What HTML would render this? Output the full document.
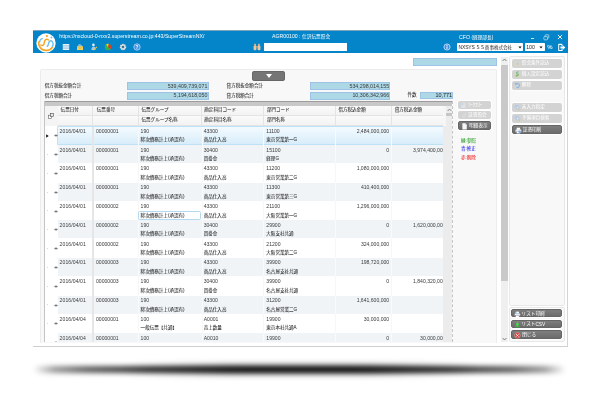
<!DOCTYPE html><html lang="ja"><head><meta charset="utf-8"><title>AGR00100 : 仕訳伝票照会</title><style>
*{box-sizing:border-box}
html,body{margin:0;padding:0}
body{width:600px;height:402px;background:#fff;overflow:hidden;position:relative;
 font-family:"Liberation Sans","Noto Sans CJK JP",sans-serif;color:#2a2a2a;font-weight:400}
.a{position:absolute}
.t{position:absolute;white-space:nowrap;line-height:1;}
.j{font-size:4.55px;-webkit-text-stroke-width:0.05px}
.l{font-size:5.1px;color:#3a3a3a}
.w{color:#fff}
.inp{position:absolute;background:#add8e6;border:0.5px solid #9fc3e6}
.btn{position:absolute;border-radius:2px;background:#d3d3d3;box-shadow:0 0 0 0.8px #fff}
.btn.d{background:linear-gradient(#7e7e7e,#6c6c6c);border:0.4px solid #666}
.btn:not(.d) svg{opacity:.72}
.btn .t{color:#fff;font-size:4.6px;font-weight:400}
.hc{position:absolute;background:linear-gradient(#fafafa,#f3f3f3)}
</style></head><body><div id="root" style="position:absolute;left:0;top:0;width:600px;height:402px;will-change:transform">
<div class="a" style="left:33px;top:366.3px;width:533px;height:7px;border-radius:3.5px;background:linear-gradient(to right,rgba(0,0,0,0),rgba(0,0,0,.38) 4%,rgba(0,0,0,.6) 10%,rgba(0,0,0,.8) 22%,rgba(0,0,0,.92) 40%,rgba(0,0,0,.92) 60%,rgba(0,0,0,.8) 78%,rgba(0,0,0,.6) 90%,rgba(0,0,0,.38) 96%,rgba(0,0,0,0));filter:blur(2.6px)"></div>
<div class="a" style="left:120px;top:364px;width:360px;height:11px;border-radius:5.5px;background:linear-gradient(to right,rgba(0,0,0,0),rgba(0,0,0,.3) 30%,rgba(0,0,0,.3) 70%,rgba(0,0,0,0));filter:blur(3px)"></div>
<div class="a" style="left:33px;top:53px;width:535px;height:294px;background:#fff;border-right:1px solid #d4d4d4;border-bottom:1px solid #cfcfcf"></div>
<div class="a" style="left:33px;top:30px;width:535px;height:23px;background:#0485c9;border-top:0.7px solid #7fa3ba"></div>
<svg class="a" style="left:36.15px;top:32.8px" width="20" height="20" viewBox="0 0 20 20">
<circle cx="10" cy="10" r="9.7" fill="#fff"/>
<path d="M2.6 9.2 C2.4 12.4 4.6 17.2 9.8 17.4 C13 17.5 15.6 15.8 16.5 13.8" fill="none" stroke="#f6a623" stroke-width="1.7" stroke-linecap="round"/>
<path d="M12.4 6.9 C11.6 5.9 10.2 5.8 9.2 7 C8 8.4 8.6 10 7.8 11.4 C7 12.6 5.8 12.7 4.8 12" fill="none" stroke="#f6a623" stroke-width="1.5" stroke-linecap="round"/>
<path d="M6.3 5.6 C4.8 5.9 3.8 7.2 3.6 8.9" fill="none" stroke="#6cc0f3" stroke-width="1.4" stroke-linecap="round"/>
<path d="M11.3 13.3 C12.6 12.4 12.4 10.4 13.1 8.9 C13.8 7.6 15.4 7.4 16.3 8.6 C17.2 10 17.3 12 16.6 13.3" fill="none" stroke="#6cc0f3" stroke-width="1.4" stroke-linecap="round"/>
<circle cx="10.9" cy="3.1" r="1.15" fill="#f6a623"/>
<circle cx="15.4" cy="4.5" r="0.95" fill="#6cc0f3"/>
</svg>
<div class="t w" style="left:59.3px;top:33.6px;font-size:5.22px">https://nxcloud-0-nxv2.superstream.co.jp:443/SuperStreamNX/</div>
<svg class="a" style="left:61.5px;top:43.0px" width="8" height="8" viewBox="0 0 8 8"><rect x="0.8" y="1" width="6.4" height="6" fill="#e8f2fa"/><path d="M0.8 2.6h6.4M0.8 4h6.4M0.8 5.4h6.4" stroke="#6aa9d6" stroke-width="0.5"/></svg>
<svg class="a" style="left:75.5px;top:43.0px" width="8" height="8" viewBox="0 0 8 8"><path d="M1 3.4 L4 1.6 L7 3.4 V7 H1Z" fill="#f3d05a"/><path d="M1 3.6 L4 5.6 L7 3.6" fill="none" stroke="#d9a520" stroke-width="0.5"/><circle cx="3.6" cy="2.4" r="1.3" fill="#7ab8ee"/></svg>
<svg class="a" style="left:89.6px;top:43.0px" width="8" height="8" viewBox="0 0 8 8"><circle cx="3.4" cy="1.9" r="1.3" fill="#e8f0fa"/><path d="M1.4 7 C1.4 4.4 2.4 3.4 3.6 3.4 C4.8 3.4 5.6 4.4 5.6 7Z" fill="#9fc8f0"/><path d="M3 7 L6.6 3.6 L7.2 4.2 L3.8 7.4Z" fill="#f2c230"/></svg>
<svg class="a" style="left:104.0px;top:43.0px" width="8" height="8" viewBox="0 0 8 8"><circle cx="4" cy="4" r="3.2" fill="#35b24a"/><path d="M4 4 L4.56 0.85 A3.2 3.2 0 0 1 6.45 6.06 Z" fill="#e6332a"/><path d="M4 4 L2.2 1.35 A3.2 3.2 0 0 1 4.56 0.85Z" fill="#f0d040"/></svg>
<svg class="a" style="left:118.6px;top:43.0px" width="8" height="8" viewBox="0 0 8 8"><circle cx="4" cy="4" r="2.4" fill="none" stroke="#e4e4e4" stroke-width="1.7" stroke-dasharray="1.1 0.78"/><circle cx="4" cy="4" r="2" fill="none" stroke="#dcdcdc" stroke-width="1.3"/><circle cx="4" cy="4" r="0.9" fill="#5a6a78"/></svg>
<svg class="a" style="left:133.0px;top:43.0px" width="8" height="8" viewBox="0 0 8 8"><circle cx="4" cy="4" r="3.2" fill="#3f8fe0" stroke="#cfe4f8" stroke-width="0.7"/><text x="4" y="5.7" font-size="4.8" font-weight="bold" fill="#fff" text-anchor="middle" font-family="Liberation Sans,sans-serif">?</text></svg>
<div class="t w" style="left:272px;top:33.8px;font-size:5.2px">AGR00100 : <span style="font-size:4.7px">仕訳伝票照会</span></div>
<div class="a" style="left:263.6px;top:42.9px;width:83px;height:7.9px;background:#fff"></div>
<svg class="a" style="left:253.3px;top:42.8px" width="8" height="8" viewBox="0 0 8 8"><rect x="0.6" y="2.6" width="2.8" height="4.6" rx="1" fill="#ecc9a4"/><rect x="4.6" y="2.6" width="2.8" height="4.6" rx="1" fill="#ecc9a4"/><rect x="1.2" y="0.8" width="1.8" height="2.4" fill="#d9b48c"/><rect x="5" y="0.8" width="1.8" height="2.4" fill="#d9b48c"/><rect x="3.2" y="3" width="1.6" height="1.6" fill="#c9a47c"/></svg>
<div class="t w" style="left:459px;top:34.8px;font-size:5.2px">CFO <span style="font-size:4.7px">(経理部長)</span></div>
<div class="a" style="left:530.6px;top:38.1px;width:3.6px;height:0.9px;background:#cfe6f5"></div>
<svg class="a" style="left:543px;top:33.7px" width="7" height="7" viewBox="0 0 7 7"><rect x="2.2" y="0.8" width="3.6" height="3.2" rx="0.6" fill="none" stroke="#d5e9f7" stroke-width="0.7"/><rect x="0.9" y="2.6" width="3.6" height="3.2" rx="0.6" fill="#0485c9" stroke="#d5e9f7" stroke-width="0.7"/></svg>
<svg class="a" style="left:557px;top:33.6px" width="6" height="6" viewBox="0 0 6 6"><path d="M0.9 0.9 L5.1 5.1 M5.1 0.9 L0.9 5.1" stroke="#f2f8fd" stroke-width="0.95"/></svg>
<svg class="a" style="left:442.8px;top:43.0px" width="8" height="8" viewBox="0 0 8 8"><circle cx="4" cy="4" r="3.1" fill="#3f8fe0" stroke="#d8e9f8" stroke-width="0.8"/><rect x="3.5" y="3.4" width="1" height="2.4" fill="#fff"/><rect x="3.5" y="2" width="1" height="1" fill="#fff"/></svg>
<div class="a" style="left:457px;top:43.3px;width:66.3px;height:7.7px;background:#fff;border-radius:0.8px"></div>
<div class="t" style="left:458.6px;top:44.6px;font-size:5px;letter-spacing:-0.2px">NXSYS <span style="font-size:4.55px;letter-spacing:0">ＳＳ商事株式会社</span></div>
<svg class="a" style="left:517.6px;top:45.9px" width="4" height="3" viewBox="0 0 4 3"><path d="M0.4 0.4 H3.6 L2 2.6Z" fill="#111"/></svg>
<div class="a" style="left:524.7px;top:43.3px;width:20px;height:7.7px;background:#fff;border-radius:0.8px"></div>
<div class="t" style="left:526.2px;top:44.5px;font-size:5.2px">100</div>
<svg class="a" style="left:539.2px;top:45.9px" width="4" height="3" viewBox="0 0 4 3"><path d="M0.4 0.4 H3.6 L2 2.6Z" fill="#111"/></svg>
<div class="t" style="left:547.2px;top:44.2px;font-size:6px;color:#d4eaf9;font-weight:700">%</div>
<svg class="a" style="left:556.5px;top:42.6px" width="9" height="9" viewBox="0 0 9 9"><path d="M1.2 1.4 Q1.2 0.8 1.8 0.8 H4.6 L5.6 1.8 V3 H4.6 V2 H2.2 V7 H4.6 V6 H5.6 V7.4 Q5.6 8 5 8 H1.8 Q1.2 8 1.2 7.4Z" fill="#fff"/><path d="M3.4 3.6 H5.8 V2.2 L8.4 4.5 L5.8 6.8 V5.4 H3.4Z" fill="#fff"/></svg>
<div class="inp" style="left:413.4px;top:58px;width:83.8px;height:8.2px"></div>
<div class="a" style="left:40px;top:69px;width:457.3px;height:274px;background:#f8f8f8;border:0.6px solid #ececec;border-bottom:0;border-radius:2px 2px 0 0"></div>
<div class="a" style="left:252px;top:71.4px;width:33.2px;height:9.2px;background:#757575;border-radius:1.8px;border:0.5px solid #666"></div>
<div class="a" style="left:265.8px;top:74.1px;width:0;height:0;border-left:3.2px solid transparent;border-right:3.2px solid transparent;border-top:4.4px solid #fff"></div>
<div class="t j" style="left:44.8px;top:84.3px">借方税抜金額合計</div>
<div class="t j" style="left:44.8px;top:93.5px">借方税額合計</div>
<div class="inp" style="left:127px;top:82.3px;width:81.6px;height:7.8px"></div>
<div class="inp" style="left:127px;top:91.9px;width:81.6px;height:7.8px"></div>
<div class="t l" style="right:392.6px;top:83.6px;font-size:5.3px">539,409,739,071</div>
<div class="t l" style="right:392.6px;top:93.2px;font-size:5.3px">5,194,618,050</div>
<div class="t j" style="left:226.6px;top:84.3px">貸方税抜金額合計</div>
<div class="t j" style="left:226.6px;top:93.5px">貸方税額合計</div>
<div class="inp" style="left:310px;top:82.3px;width:80.4px;height:7.8px"></div>
<div class="inp" style="left:310px;top:91.9px;width:80.4px;height:7.8px"></div>
<div class="t l" style="right:210.8px;top:83.6px;font-size:5.3px">534,298,014,155</div>
<div class="t l" style="right:210.8px;top:93.2px;font-size:5.3px">10,306,342,966</div>
<div class="t j" style="left:407.5px;top:93.4px">件数</div>
<div class="inp" style="left:420px;top:91.8px;width:33px;height:7.6px"></div>
<div class="t l" style="right:148px;top:93.1px;font-size:5.4px;color:#222">10,771</div>
<div class="a" style="left:44px;top:101.4px;width:409px;height:240.99999999999997px;background:#fff;overflow:hidden;border-left:0.7px solid #c4c4c4;border-right:0.7px dashed #c6c6c6">
<div class="a" style="left:0;top:0;width:409px;height:4.2px;background:#c8c8c8;border-top:0.6px solid #9c9c9c"></div>
<div class="a" style="left:0;top:4.4px;width:409px;height:19.79999999999999px;background:#e4e4e4"></div>
<div class="a" style="left:0;top:4.4px;width:12.600000000000003px;height:19.79999999999999px;background:#f4f4f4"></div>
<div class="hc" style="left:13.000000000000002px;top:4.599999999999994px;width:33.9px;height:8.899999999999995px"></div>
<div class="hc" style="left:13.000000000000002px;top:14.199999999999989px;width:33.9px;height:9.7px"></div>
<div class="t j" style="left:15.600000000000003px;top:6.999999999999995px">伝票日付</div>
<div class="hc" style="left:47.9px;top:4.599999999999994px;width:45.0px;height:8.899999999999995px"></div>
<div class="hc" style="left:47.9px;top:14.199999999999989px;width:45.0px;height:9.7px"></div>
<div class="t j" style="left:51.800000000000004px;top:6.999999999999995px">伝票番号</div>
<div class="hc" style="left:93.80000000000001px;top:4.599999999999994px;width:62.599999999999994px;height:8.899999999999995px"></div>
<div class="hc" style="left:93.80000000000001px;top:14.199999999999989px;width:62.599999999999994px;height:9.7px"></div>
<div class="t j" style="left:96.5px;top:6.999999999999995px">伝票グループ</div>
<div class="t j" style="left:96.5px;top:16.79999999999999px">伝票グループ名称</div>
<div class="hc" style="left:157.3px;top:4.599999999999994px;width:60.79999999999998px;height:8.899999999999995px"></div>
<div class="hc" style="left:157.3px;top:14.199999999999989px;width:60.79999999999998px;height:9.7px"></div>
<div class="t j" style="left:159.3px;top:6.999999999999995px">勘定科目コード</div>
<div class="t j" style="left:159.3px;top:16.79999999999999px">勘定科目名称</div>
<div class="hc" style="left:219.00000000000003px;top:4.599999999999994px;width:70.59999999999997px;height:8.899999999999995px"></div>
<div class="hc" style="left:219.00000000000003px;top:14.199999999999989px;width:70.59999999999997px;height:9.7px"></div>
<div class="t j" style="left:221.9px;top:6.999999999999995px">部門コード</div>
<div class="t j" style="left:221.9px;top:16.79999999999999px">部門名称</div>
<div class="hc" style="left:290.5px;top:4.599999999999994px;width:55.599999999999966px;height:8.899999999999995px"></div>
<div class="hc" style="left:290.5px;top:14.199999999999989px;width:55.599999999999966px;height:9.7px"></div>
<div class="t j" style="left:293.4px;top:6.999999999999995px">借方税込金額</div>
<div class="hc" style="left:347.0px;top:4.599999999999994px;width:51.39999999999998px;height:8.899999999999995px"></div>
<div class="hc" style="left:347.0px;top:14.199999999999989px;width:51.39999999999998px;height:9.7px"></div>
<div class="t j" style="left:349.7px;top:6.999999999999995px">貸方税込金額</div>
<svg class="a" style="left:3.199999999999997px;top:11.599999999999994px" width="6" height="6" viewBox="0 0 6 6"><rect x="0.6" y="2.2" width="3" height="3.2" fill="#fff" stroke="#555" stroke-width="0.55"/><rect x="2.3" y="0.6" width="3.1" height="3.1" fill="#e4e4e4" stroke="#444" stroke-width="0.55"/></svg>
<div class="a" style="left:13.000000000000002px;top:24.19999999999999px;width:385.4px;height:18.8px;background:linear-gradient(#f5fbff,#d8edfa)"></div>
<div class="a" style="left:46.6px;top:24.19999999999999px;width:2.5px;height:18.8px;background:#e7e6e6"></div>
<div class="a" style="left:92.80000000000001px;top:24.19999999999999px;width:1px;height:18.8px;background:#f8fafb"></div>
<div class="a" style="left:156.8px;top:24.19999999999999px;width:1px;height:18.8px;background:#f8fafb"></div>
<div class="a" style="left:218.4px;top:24.19999999999999px;width:1px;height:18.8px;background:#f8fafb"></div>
<div class="a" style="left:289.79999999999995px;top:24.19999999999999px;width:1px;height:18.8px;background:#f8fafb"></div>
<div class="a" style="left:346.2px;top:24.19999999999999px;width:1px;height:18.8px;background:#f8fafb"></div>
<div class="a" style="left:12.4px;top:24.19999999999999px;width:386.4px;height:19.1px;border:0.6px solid #bfe1f5;border-right:0;border-radius:1.5px 0 0 1.5px"></div>
<div class="t l" style="left:14.600000000000003px;top:27.399999999999988px;letter-spacing:0.08px">2016/04/01</div>
<div class="t l" style="left:50.99999999999999px;top:27.399999999999988px">00000001</div>
<div class="t l" style="left:95.6px;top:27.399999999999988px">190</div>
<div class="t j" style="left:95.6px;top:37.09999999999999px">締次債務計上(承認有)</div>
<div class="t l" style="left:158.70000000000002px;top:27.399999999999988px">43300</div>
<div class="t j" style="left:158.70000000000002px;top:37.09999999999999px">商品仕入高</div>
<div class="t l" style="left:221.29999999999998px;top:27.399999999999988px">11100</div>
<div class="t j" style="left:221.29999999999998px;top:37.09999999999999px">東京営業第一G</div>
<div class="t l" style="right:62.80000000000001px;top:27.399999999999988px">2,484,000,000</div>
<svg class="a" style="left:9.000000000000002px;top:33.09999999999999px" width="4" height="3" viewBox="0 0 4 3"><path d="M0.2 1.5 L1.5 0.2 V2.8Z M3.8 1.5 L2.5 0.2 V2.8Z" fill="#6a6a6a"/><rect x="1" y="0.9" width="2" height="1.2" fill="#777"/></svg>
<div class="a" style="left:2.0000000000000013px;top:33.79999999999999px;width:0.8px;height:0.8px;background:#d8d8d8"></div>
<svg class="a" style="left:1.199999999999997px;top:32.39999999999999px" width="3" height="4" viewBox="0 0 3 4"><path d="M0.2 0.2 L2.7 2 L0.2 3.8Z" fill="#111"/></svg>
<div class="a" style="left:13.000000000000002px;top:43.8px;width:385.4px;height:18.0px;background:#f0f4f7"></div>
<div class="a" style="left:46.6px;top:43.0px;width:2.5px;height:18.8px;background:#e7e6e6"></div>
<div class="a" style="left:92.80000000000001px;top:43.0px;width:1px;height:18.8px;background:#f8fafb"></div>
<div class="a" style="left:156.8px;top:43.0px;width:1px;height:18.8px;background:#f8fafb"></div>
<div class="a" style="left:218.4px;top:43.0px;width:1px;height:18.8px;background:#f8fafb"></div>
<div class="a" style="left:289.79999999999995px;top:43.0px;width:1px;height:18.8px;background:#f8fafb"></div>
<div class="a" style="left:346.2px;top:43.0px;width:1px;height:18.8px;background:#f8fafb"></div>
<div class="t l" style="left:14.600000000000003px;top:46.2px;letter-spacing:0.08px">2016/04/01</div>
<div class="t l" style="left:50.99999999999999px;top:46.2px">00000001</div>
<div class="t l" style="left:95.6px;top:46.2px">190</div>
<div class="t j" style="left:95.6px;top:55.9px">締次債務計上(承認有)</div>
<div class="t l" style="left:158.70000000000002px;top:46.2px">30400</div>
<div class="t j" style="left:158.70000000000002px;top:55.9px">買掛金</div>
<div class="t l" style="left:221.29999999999998px;top:46.2px">15100</div>
<div class="t j" style="left:221.29999999999998px;top:55.9px">経理G</div>
<div class="t l" style="right:62.80000000000001px;top:46.2px">0</div>
<div class="t l" style="right:6.399999999999977px;top:46.2px">3,974,400,000</div>
<svg class="a" style="left:9.000000000000002px;top:51.9px" width="4" height="3" viewBox="0 0 4 3"><path d="M0.2 1.5 L1.5 0.2 V2.8Z M3.8 1.5 L2.5 0.2 V2.8Z" fill="#6a6a6a"/><rect x="1" y="0.9" width="2" height="1.2" fill="#777"/></svg>
<div class="a" style="left:2.0000000000000013px;top:52.6px;width:0.8px;height:0.8px;background:#d8d8d8"></div>
<div class="a" style="left:13.000000000000002px;top:61.79999999999998px;width:385.4px;height:18.8px;background:#fff"></div>
<div class="a" style="left:46.6px;top:61.79999999999998px;width:2.5px;height:18.8px;background:#e7e6e6"></div>
<div class="a" style="left:92.80000000000001px;top:61.79999999999998px;width:1px;height:18.8px;background:#f7f7f7"></div>
<div class="a" style="left:156.8px;top:61.79999999999998px;width:1px;height:18.8px;background:#f7f7f7"></div>
<div class="a" style="left:218.4px;top:61.79999999999998px;width:1px;height:18.8px;background:#f7f7f7"></div>
<div class="a" style="left:289.79999999999995px;top:61.79999999999998px;width:1px;height:18.8px;background:#f7f7f7"></div>
<div class="a" style="left:346.2px;top:61.79999999999998px;width:1px;height:18.8px;background:#f7f7f7"></div>
<div class="t l" style="left:14.600000000000003px;top:64.99999999999999px;letter-spacing:0.08px">2016/04/01</div>
<div class="t l" style="left:50.99999999999999px;top:64.99999999999999px">00000001</div>
<div class="t l" style="left:95.6px;top:64.99999999999999px">190</div>
<div class="t j" style="left:95.6px;top:74.69999999999999px">締次債務計上(承認有)</div>
<div class="t l" style="left:158.70000000000002px;top:64.99999999999999px">43300</div>
<div class="t j" style="left:158.70000000000002px;top:74.69999999999999px">商品仕入高</div>
<div class="t l" style="left:221.29999999999998px;top:64.99999999999999px">11200</div>
<div class="t j" style="left:221.29999999999998px;top:74.69999999999999px">東京営業第二G</div>
<div class="t l" style="right:62.80000000000001px;top:64.99999999999999px">1,080,000,000</div>
<svg class="a" style="left:9.000000000000002px;top:70.69999999999999px" width="4" height="3" viewBox="0 0 4 3"><path d="M0.2 1.5 L1.5 0.2 V2.8Z M3.8 1.5 L2.5 0.2 V2.8Z" fill="#6a6a6a"/><rect x="1" y="0.9" width="2" height="1.2" fill="#777"/></svg>
<div class="a" style="left:2.0000000000000013px;top:71.39999999999998px;width:0.8px;height:0.8px;background:#d8d8d8"></div>
<div class="a" style="left:13.000000000000002px;top:81.39999999999999px;width:385.4px;height:18.0px;background:#f0f4f7"></div>
<div class="a" style="left:46.6px;top:80.6px;width:2.5px;height:18.8px;background:#e7e6e6"></div>
<div class="a" style="left:92.80000000000001px;top:80.6px;width:1px;height:18.8px;background:#f8fafb"></div>
<div class="a" style="left:156.8px;top:80.6px;width:1px;height:18.8px;background:#f8fafb"></div>
<div class="a" style="left:218.4px;top:80.6px;width:1px;height:18.8px;background:#f8fafb"></div>
<div class="a" style="left:289.79999999999995px;top:80.6px;width:1px;height:18.8px;background:#f8fafb"></div>
<div class="a" style="left:346.2px;top:80.6px;width:1px;height:18.8px;background:#f8fafb"></div>
<div class="t l" style="left:14.600000000000003px;top:83.8px;letter-spacing:0.08px">2016/04/01</div>
<div class="t l" style="left:50.99999999999999px;top:83.8px">00000001</div>
<div class="t l" style="left:95.6px;top:83.8px">190</div>
<div class="t j" style="left:95.6px;top:93.5px">締次債務計上(承認有)</div>
<div class="t l" style="left:158.70000000000002px;top:83.8px">43300</div>
<div class="t j" style="left:158.70000000000002px;top:93.5px">商品仕入高</div>
<div class="t l" style="left:221.29999999999998px;top:83.8px">11300</div>
<div class="t j" style="left:221.29999999999998px;top:93.5px">東京営業第三G</div>
<div class="t l" style="right:62.80000000000001px;top:83.8px">410,400,000</div>
<svg class="a" style="left:9.000000000000002px;top:89.5px" width="4" height="3" viewBox="0 0 4 3"><path d="M0.2 1.5 L1.5 0.2 V2.8Z M3.8 1.5 L2.5 0.2 V2.8Z" fill="#6a6a6a"/><rect x="1" y="0.9" width="2" height="1.2" fill="#777"/></svg>
<div class="a" style="left:2.0000000000000013px;top:90.19999999999999px;width:0.8px;height:0.8px;background:#d8d8d8"></div>
<div class="a" style="left:13.000000000000002px;top:99.4px;width:385.4px;height:18.8px;background:#fff"></div>
<div class="a" style="left:46.6px;top:99.4px;width:2.5px;height:18.8px;background:#e7e6e6"></div>
<div class="a" style="left:92.80000000000001px;top:99.4px;width:1px;height:18.8px;background:#f7f7f7"></div>
<div class="a" style="left:156.8px;top:99.4px;width:1px;height:18.8px;background:#f7f7f7"></div>
<div class="a" style="left:218.4px;top:99.4px;width:1px;height:18.8px;background:#f7f7f7"></div>
<div class="a" style="left:289.79999999999995px;top:99.4px;width:1px;height:18.8px;background:#f7f7f7"></div>
<div class="a" style="left:346.2px;top:99.4px;width:1px;height:18.8px;background:#f7f7f7"></div>
<div class="t l" style="left:14.600000000000003px;top:102.60000000000001px;letter-spacing:0.08px">2016/04/01</div>
<div class="t l" style="left:50.99999999999999px;top:102.60000000000001px">00000002</div>
<div class="t l" style="left:95.6px;top:102.60000000000001px">190</div>
<div class="t j" style="left:95.6px;top:112.30000000000001px">締次債務計上(承認有)</div>
<div class="t l" style="left:158.70000000000002px;top:102.60000000000001px">43300</div>
<div class="t j" style="left:158.70000000000002px;top:112.30000000000001px">商品仕入高</div>
<div class="t l" style="left:221.29999999999998px;top:102.60000000000001px">21100</div>
<div class="t j" style="left:221.29999999999998px;top:112.30000000000001px">大阪営業第一G</div>
<div class="t l" style="right:62.80000000000001px;top:102.60000000000001px">1,296,000,000</div>
<svg class="a" style="left:9.000000000000002px;top:108.30000000000001px" width="4" height="3" viewBox="0 0 4 3"><path d="M0.2 1.5 L1.5 0.2 V2.8Z M3.8 1.5 L2.5 0.2 V2.8Z" fill="#6a6a6a"/><rect x="1" y="0.9" width="2" height="1.2" fill="#777"/></svg>
<div class="a" style="left:2.0000000000000013px;top:109.0px;width:0.8px;height:0.8px;background:#d8d8d8"></div>
<div class="a" style="left:93.1px;top:109.5px;width:63.3px;height:9.3px;border:0.7px solid #b3d9f1;border-radius:1.6px;background:#fff"></div>
<div class="t j" style="left:95.6px;top:112.30000000000001px">締次債務計上(承認有)</div>
<div class="a" style="left:13.000000000000002px;top:118.99999999999999px;width:385.4px;height:18.0px;background:#f0f4f7"></div>
<div class="a" style="left:46.6px;top:118.19999999999999px;width:2.5px;height:18.8px;background:#e7e6e6"></div>
<div class="a" style="left:92.80000000000001px;top:118.19999999999999px;width:1px;height:18.8px;background:#f8fafb"></div>
<div class="a" style="left:156.8px;top:118.19999999999999px;width:1px;height:18.8px;background:#f8fafb"></div>
<div class="a" style="left:218.4px;top:118.19999999999999px;width:1px;height:18.8px;background:#f8fafb"></div>
<div class="a" style="left:289.79999999999995px;top:118.19999999999999px;width:1px;height:18.8px;background:#f8fafb"></div>
<div class="a" style="left:346.2px;top:118.19999999999999px;width:1px;height:18.8px;background:#f8fafb"></div>
<div class="t l" style="left:14.600000000000003px;top:121.39999999999999px;letter-spacing:0.08px">2016/04/01</div>
<div class="t l" style="left:50.99999999999999px;top:121.39999999999999px">00000002</div>
<div class="t l" style="left:95.6px;top:121.39999999999999px">190</div>
<div class="t j" style="left:95.6px;top:131.1px">締次債務計上(承認有)</div>
<div class="t l" style="left:158.70000000000002px;top:121.39999999999999px">30400</div>
<div class="t j" style="left:158.70000000000002px;top:131.1px">買掛金</div>
<div class="t l" style="left:221.29999999999998px;top:121.39999999999999px">29900</div>
<div class="t j" style="left:221.29999999999998px;top:131.1px">大阪支社共通</div>
<div class="t l" style="right:62.80000000000001px;top:121.39999999999999px">0</div>
<div class="t l" style="right:6.399999999999977px;top:121.39999999999999px">1,620,000,000</div>
<svg class="a" style="left:9.000000000000002px;top:127.1px" width="4" height="3" viewBox="0 0 4 3"><path d="M0.2 1.5 L1.5 0.2 V2.8Z M3.8 1.5 L2.5 0.2 V2.8Z" fill="#6a6a6a"/><rect x="1" y="0.9" width="2" height="1.2" fill="#777"/></svg>
<div class="a" style="left:2.0000000000000013px;top:127.79999999999998px;width:0.8px;height:0.8px;background:#d8d8d8"></div>
<div class="a" style="left:13.000000000000002px;top:137.0px;width:385.4px;height:18.8px;background:#fff"></div>
<div class="a" style="left:46.6px;top:137.0px;width:2.5px;height:18.8px;background:#e7e6e6"></div>
<div class="a" style="left:92.80000000000001px;top:137.0px;width:1px;height:18.8px;background:#f7f7f7"></div>
<div class="a" style="left:156.8px;top:137.0px;width:1px;height:18.8px;background:#f7f7f7"></div>
<div class="a" style="left:218.4px;top:137.0px;width:1px;height:18.8px;background:#f7f7f7"></div>
<div class="a" style="left:289.79999999999995px;top:137.0px;width:1px;height:18.8px;background:#f7f7f7"></div>
<div class="a" style="left:346.2px;top:137.0px;width:1px;height:18.8px;background:#f7f7f7"></div>
<div class="t l" style="left:14.600000000000003px;top:140.2px;letter-spacing:0.08px">2016/04/01</div>
<div class="t l" style="left:50.99999999999999px;top:140.2px">00000002</div>
<div class="t l" style="left:95.6px;top:140.2px">190</div>
<div class="t j" style="left:95.6px;top:149.9px">締次債務計上(承認有)</div>
<div class="t l" style="left:158.70000000000002px;top:140.2px">43300</div>
<div class="t j" style="left:158.70000000000002px;top:149.9px">商品仕入高</div>
<div class="t l" style="left:221.29999999999998px;top:140.2px">21200</div>
<div class="t j" style="left:221.29999999999998px;top:149.9px">大阪営業第二G</div>
<div class="t l" style="right:62.80000000000001px;top:140.2px">324,000,000</div>
<svg class="a" style="left:9.000000000000002px;top:145.9px" width="4" height="3" viewBox="0 0 4 3"><path d="M0.2 1.5 L1.5 0.2 V2.8Z M3.8 1.5 L2.5 0.2 V2.8Z" fill="#6a6a6a"/><rect x="1" y="0.9" width="2" height="1.2" fill="#777"/></svg>
<div class="a" style="left:2.0000000000000013px;top:146.6px;width:0.8px;height:0.8px;background:#d8d8d8"></div>
<div class="a" style="left:13.000000000000002px;top:156.6px;width:385.4px;height:18.0px;background:#f0f4f7"></div>
<div class="a" style="left:46.6px;top:155.79999999999998px;width:2.5px;height:18.8px;background:#e7e6e6"></div>
<div class="a" style="left:92.80000000000001px;top:155.79999999999998px;width:1px;height:18.8px;background:#f8fafb"></div>
<div class="a" style="left:156.8px;top:155.79999999999998px;width:1px;height:18.8px;background:#f8fafb"></div>
<div class="a" style="left:218.4px;top:155.79999999999998px;width:1px;height:18.8px;background:#f8fafb"></div>
<div class="a" style="left:289.79999999999995px;top:155.79999999999998px;width:1px;height:18.8px;background:#f8fafb"></div>
<div class="a" style="left:346.2px;top:155.79999999999998px;width:1px;height:18.8px;background:#f8fafb"></div>
<div class="t l" style="left:14.600000000000003px;top:158.99999999999997px;letter-spacing:0.08px">2016/04/01</div>
<div class="t l" style="left:50.99999999999999px;top:158.99999999999997px">00000003</div>
<div class="t l" style="left:95.6px;top:158.99999999999997px">190</div>
<div class="t j" style="left:95.6px;top:168.7px">締次債務計上(承認有)</div>
<div class="t l" style="left:158.70000000000002px;top:158.99999999999997px">43300</div>
<div class="t j" style="left:158.70000000000002px;top:168.7px">商品仕入高</div>
<div class="t l" style="left:221.29999999999998px;top:158.99999999999997px">39900</div>
<div class="t j" style="left:221.29999999999998px;top:168.7px">名古屋支社共通</div>
<div class="t l" style="right:62.80000000000001px;top:158.99999999999997px">198,720,000</div>
<svg class="a" style="left:9.000000000000002px;top:164.7px" width="4" height="3" viewBox="0 0 4 3"><path d="M0.2 1.5 L1.5 0.2 V2.8Z M3.8 1.5 L2.5 0.2 V2.8Z" fill="#6a6a6a"/><rect x="1" y="0.9" width="2" height="1.2" fill="#777"/></svg>
<div class="a" style="left:2.0000000000000013px;top:165.39999999999998px;width:0.8px;height:0.8px;background:#d8d8d8"></div>
<div class="a" style="left:13.000000000000002px;top:174.6px;width:385.4px;height:18.8px;background:#fff"></div>
<div class="a" style="left:46.6px;top:174.6px;width:2.5px;height:18.8px;background:#e7e6e6"></div>
<div class="a" style="left:92.80000000000001px;top:174.6px;width:1px;height:18.8px;background:#f7f7f7"></div>
<div class="a" style="left:156.8px;top:174.6px;width:1px;height:18.8px;background:#f7f7f7"></div>
<div class="a" style="left:218.4px;top:174.6px;width:1px;height:18.8px;background:#f7f7f7"></div>
<div class="a" style="left:289.79999999999995px;top:174.6px;width:1px;height:18.8px;background:#f7f7f7"></div>
<div class="a" style="left:346.2px;top:174.6px;width:1px;height:18.8px;background:#f7f7f7"></div>
<div class="t l" style="left:14.600000000000003px;top:177.79999999999998px;letter-spacing:0.08px">2016/04/01</div>
<div class="t l" style="left:50.99999999999999px;top:177.79999999999998px">00000003</div>
<div class="t l" style="left:95.6px;top:177.79999999999998px">190</div>
<div class="t j" style="left:95.6px;top:187.5px">締次債務計上(承認有)</div>
<div class="t l" style="left:158.70000000000002px;top:177.79999999999998px">30400</div>
<div class="t j" style="left:158.70000000000002px;top:187.5px">買掛金</div>
<div class="t l" style="left:221.29999999999998px;top:177.79999999999998px">39900</div>
<div class="t j" style="left:221.29999999999998px;top:187.5px">名古屋支社共通</div>
<div class="t l" style="right:62.80000000000001px;top:177.79999999999998px">0</div>
<div class="t l" style="right:6.399999999999977px;top:177.79999999999998px">1,840,320,000</div>
<svg class="a" style="left:9.000000000000002px;top:183.5px" width="4" height="3" viewBox="0 0 4 3"><path d="M0.2 1.5 L1.5 0.2 V2.8Z M3.8 1.5 L2.5 0.2 V2.8Z" fill="#6a6a6a"/><rect x="1" y="0.9" width="2" height="1.2" fill="#777"/></svg>
<div class="a" style="left:2.0000000000000013px;top:184.2px;width:0.8px;height:0.8px;background:#d8d8d8"></div>
<div class="a" style="left:13.000000000000002px;top:194.20000000000002px;width:385.4px;height:18.0px;background:#f0f4f7"></div>
<div class="a" style="left:46.6px;top:193.4px;width:2.5px;height:18.8px;background:#e7e6e6"></div>
<div class="a" style="left:92.80000000000001px;top:193.4px;width:1px;height:18.8px;background:#f8fafb"></div>
<div class="a" style="left:156.8px;top:193.4px;width:1px;height:18.8px;background:#f8fafb"></div>
<div class="a" style="left:218.4px;top:193.4px;width:1px;height:18.8px;background:#f8fafb"></div>
<div class="a" style="left:289.79999999999995px;top:193.4px;width:1px;height:18.8px;background:#f8fafb"></div>
<div class="a" style="left:346.2px;top:193.4px;width:1px;height:18.8px;background:#f8fafb"></div>
<div class="t l" style="left:14.600000000000003px;top:196.6px;letter-spacing:0.08px">2016/04/01</div>
<div class="t l" style="left:50.99999999999999px;top:196.6px">00000003</div>
<div class="t l" style="left:95.6px;top:196.6px">190</div>
<div class="t j" style="left:95.6px;top:206.3px">締次債務計上(承認有)</div>
<div class="t l" style="left:158.70000000000002px;top:196.6px">43300</div>
<div class="t j" style="left:158.70000000000002px;top:206.3px">商品仕入高</div>
<div class="t l" style="left:221.29999999999998px;top:196.6px">31200</div>
<div class="t j" style="left:221.29999999999998px;top:206.3px">名古屋営業二G</div>
<div class="t l" style="right:62.80000000000001px;top:196.6px">1,641,600,000</div>
<svg class="a" style="left:9.000000000000002px;top:202.3px" width="4" height="3" viewBox="0 0 4 3"><path d="M0.2 1.5 L1.5 0.2 V2.8Z M3.8 1.5 L2.5 0.2 V2.8Z" fill="#6a6a6a"/><rect x="1" y="0.9" width="2" height="1.2" fill="#777"/></svg>
<div class="a" style="left:2.0000000000000013px;top:203.0px;width:0.8px;height:0.8px;background:#d8d8d8"></div>
<div class="a" style="left:13.000000000000002px;top:212.20000000000002px;width:385.4px;height:18.8px;background:#fff"></div>
<div class="a" style="left:46.6px;top:212.20000000000002px;width:2.5px;height:18.8px;background:#e7e6e6"></div>
<div class="a" style="left:92.80000000000001px;top:212.20000000000002px;width:1px;height:18.8px;background:#f7f7f7"></div>
<div class="a" style="left:156.8px;top:212.20000000000002px;width:1px;height:18.8px;background:#f7f7f7"></div>
<div class="a" style="left:218.4px;top:212.20000000000002px;width:1px;height:18.8px;background:#f7f7f7"></div>
<div class="a" style="left:289.79999999999995px;top:212.20000000000002px;width:1px;height:18.8px;background:#f7f7f7"></div>
<div class="a" style="left:346.2px;top:212.20000000000002px;width:1px;height:18.8px;background:#f7f7f7"></div>
<div class="t l" style="left:14.600000000000003px;top:215.4px;letter-spacing:0.08px">2016/04/04</div>
<div class="t l" style="left:50.99999999999999px;top:215.4px">00000001</div>
<div class="t l" style="left:95.6px;top:215.4px">100</div>
<div class="t j" style="left:95.6px;top:225.10000000000002px">一般伝票【共通】</div>
<div class="t l" style="left:158.70000000000002px;top:215.4px">A0001</div>
<div class="t j" style="left:158.70000000000002px;top:225.10000000000002px">売上数量</div>
<div class="t l" style="left:221.29999999999998px;top:215.4px">19900</div>
<div class="t j" style="left:221.29999999999998px;top:225.10000000000002px">東京本社共通A</div>
<div class="t l" style="right:62.80000000000001px;top:215.4px">30,000,000</div>
<svg class="a" style="left:9.000000000000002px;top:221.10000000000002px" width="4" height="3" viewBox="0 0 4 3"><path d="M0.2 1.5 L1.5 0.2 V2.8Z M3.8 1.5 L2.5 0.2 V2.8Z" fill="#6a6a6a"/><rect x="1" y="0.9" width="2" height="1.2" fill="#777"/></svg>
<div class="a" style="left:2.0000000000000013px;top:221.8px;width:0.8px;height:0.8px;background:#d8d8d8"></div>
<div class="a" style="left:13.000000000000002px;top:231.79999999999998px;width:385.4px;height:18.0px;background:#f0f4f7"></div>
<div class="a" style="left:46.6px;top:230.99999999999997px;width:2.5px;height:18.8px;background:#e7e6e6"></div>
<div class="a" style="left:92.80000000000001px;top:230.99999999999997px;width:1px;height:18.8px;background:#f8fafb"></div>
<div class="a" style="left:156.8px;top:230.99999999999997px;width:1px;height:18.8px;background:#f8fafb"></div>
<div class="a" style="left:218.4px;top:230.99999999999997px;width:1px;height:18.8px;background:#f8fafb"></div>
<div class="a" style="left:289.79999999999995px;top:230.99999999999997px;width:1px;height:18.8px;background:#f8fafb"></div>
<div class="a" style="left:346.2px;top:230.99999999999997px;width:1px;height:18.8px;background:#f8fafb"></div>
<div class="t l" style="left:14.600000000000003px;top:234.19999999999996px;letter-spacing:0.08px">2016/04/04</div>
<div class="t l" style="left:50.99999999999999px;top:234.19999999999996px">00000001</div>
<div class="t l" style="left:95.6px;top:234.19999999999996px">100</div>
<div class="t j" style="left:95.6px;top:243.89999999999998px">一般伝票【共通】</div>
<div class="t l" style="left:158.70000000000002px;top:234.19999999999996px">A0010</div>
<div class="t j" style="left:158.70000000000002px;top:243.89999999999998px">売上数量</div>
<div class="t l" style="left:221.29999999999998px;top:234.19999999999996px">19900</div>
<div class="t j" style="left:221.29999999999998px;top:243.89999999999998px">東京本社共通A</div>
<div class="t l" style="right:62.80000000000001px;top:234.19999999999996px">0</div>
<div class="t l" style="right:6.399999999999977px;top:234.19999999999996px">30,000,000</div>
<svg class="a" style="left:9.000000000000002px;top:239.89999999999998px" width="4" height="3" viewBox="0 0 4 3"><path d="M0.2 1.5 L1.5 0.2 V2.8Z M3.8 1.5 L2.5 0.2 V2.8Z" fill="#6a6a6a"/><rect x="1" y="0.9" width="2" height="1.2" fill="#777"/></svg>
<div class="a" style="left:2.0000000000000013px;top:240.59999999999997px;width:0.8px;height:0.8px;background:#d8d8d8"></div>
<div class="a" style="left:398.4px;top:4.599999999999994px;width:10px;height:236.39999999999998px;background:#ececec"></div>
<div class="a" style="left:398.4px;top:4.599999999999994px;width:2.4px;height:19.599999999999994px;background:#f6f6f6"></div>
<div class="a" style="left:401.4px;top:11.799999999999997px;width:6.6px;height:2.7px;background:#c6c6c6"></div>
<svg class="a" style="left:402.0px;top:6.199999999999989px" width="5" height="4" viewBox="0 0 5 4"><path d="M0.6 3 L2.5 1 L4.4 3" fill="none" stroke="#666" stroke-width="0.7"/></svg>
</div>
<div class="btn" style="left:458.2px;top:100.8px;width:33.2px;height:8.3px"><svg class="a" style="left:2px;top:0.9px" width="6.8" height="6.8" viewBox="0 0 8 8"><path d="M1.6 0.6 H5 L6.6 2.2 V7.4 H1.6Z" fill="#e9eef6" opacity="0.8"/><circle cx="3" cy="2.4" r="1.3" fill="#bcd6f0"/></svg><div class="t" style="left:10px;top:2.1px">ﾜｰｸﾌﾛｰ</div></div>
<div class="btn" style="left:458.2px;top:111px;width:33.2px;height:8.4px"><svg class="a" style="left:2px;top:0.9px" width="6.8" height="6.8" viewBox="0 0 8 8"><path d="M2 6 L5.6 2.2 A0.9 0.9 0 0 1 7 3.4 L3.6 7" fill="none" stroke="#e6e6e6" stroke-width="0.9"/></svg><div class="t" style="left:10px;top:2.1px">証憑照会</div></div>
<div class="btn d" style="left:458.2px;top:121px;width:33.2px;height:8.6px"><svg class="a" style="left:2px;top:0.9px" width="6.8" height="6.8" viewBox="0 0 8 8"><path d="M1.6 0.4 H5 L6.8 2.2 V7.6 H1.6Z" fill="#f4f6fa"/><path d="M5 0.4 V2.2 H6.8" fill="#c9d3e0"/></svg><div class="t" style="left:10px;top:1.9px">明細表示</div></div>
<div class="t j" style="left:461px;top:139.2px;color:#1c9a1c;font-weight:400">緑:参照</div>
<div class="t j" style="left:461px;top:147.3px;color:#1a1af0;font-weight:400">青:修正</div>
<div class="t j" style="left:461px;top:155.8px;color:#f02020;font-weight:400">赤:削除</div>
<div class="a" style="left:500.6px;top:57px;width:7px;height:285px;background:#efefef"></div>
<div class="a" style="left:500.6px;top:64.8px;width:7px;height:216px;background:#c9c9c9"></div>
<svg class="a" style="left:501.6px;top:58.4px" width="5" height="4" viewBox="0 0 5 4"><path d="M0.6 3 L2.5 1 L4.4 3" fill="none" stroke="#555" stroke-width="0.7"/></svg>
<svg class="a" style="left:501.6px;top:337.4px" width="5" height="4" viewBox="0 0 5 4"><path d="M0.6 1 L2.5 3 L4.4 1" fill="none" stroke="#555" stroke-width="0.7"/></svg>
<div class="a" style="left:509.4px;top:56.4px;width:55.4px;height:249.6px;background:#f8f8f8;border:0.6px solid #e8e8e8;border-radius:1.6px"></div>
<div class="a" style="left:509.4px;top:307px;width:55.4px;height:35px;background:#f8f8f8;border:0.6px solid #e8e8e8;border-radius:1.6px"></div>
<div class="btn" style="left:512px;top:59px;width:50px;height:8.7px"><svg class="a" style="left:2px;top:0.9px" width="6.8" height="6.8" viewBox="0 0 8 8"><path d="M0.6 1.6 H3.4 L4.2 2.4 H7.4 V7 H0.6Z" fill="#e6d6a4"/><circle cx="4.2" cy="4.4" r="1.7" fill="#a9c8ea" stroke="#d9e6f4" stroke-width="0.6"/></svg><div class="t" style="left:9.8px;top:2.1px">照会条件読込</div></div>
<div class="btn" style="left:512px;top:70px;width:50px;height:8.7px"><svg class="a" style="left:2px;top:0.9px" width="6.8" height="6.8" viewBox="0 0 8 8"><path d="M0.8 3.4 H7 V7.2 H0.8Z" fill="#e6d9a0"/><path d="M5.4 0.8 C2.4 1 2.2 3 4.4 3.6 C6 4.2 5 5.6 3 5.6" fill="none" stroke="#58b058" stroke-width="1.3"/><path d="M1.4 5.6 L3.6 4.2 V7Z" fill="#58b058"/></svg><div class="t" style="left:9.8px;top:2.1px">個人設定読込</div></div>
<div class="btn" style="left:512px;top:81px;width:50px;height:8.7px"><svg class="a" style="left:2px;top:0.9px" width="6.8" height="6.8" viewBox="0 0 8 8"><path d="M2.2 2.6 C4.4 0.8 7 2.4 6.2 4.8 C5.6 6.6 3.8 6.8 2.8 6.2" fill="none" stroke="#79aee2" stroke-width="1.5"/><path d="M0.6 1 L3.6 1.4 L1.4 4Z" fill="#79aee2"/></svg><div class="t" style="left:9.8px;top:2.1px">解除</div></div>
<div class="btn" style="left:512px;top:103.2px;width:50px;height:8.7px"><svg class="a" style="left:2px;top:0.9px" width="6.8" height="6.8" viewBox="0 0 8 8"><rect x="0.6" y="0.8" width="4.6" height="3.8" fill="#b4cdea"/><circle cx="4.2" cy="4.2" r="1.8" fill="#dfe9f6" stroke="#8fb4e0" stroke-width="0.8"/><path d="M5.4 5.6 L7.2 7.6" stroke="#e8c24a" stroke-width="1.2"/></svg><div class="t" style="left:9.8px;top:2.1px">未入力指定</div></div>
<div class="btn" style="left:512px;top:114.2px;width:50px;height:8.7px"><svg class="a" style="left:2px;top:0.9px" width="6.8" height="6.8" viewBox="0 0 8 8"><rect x="0.6" y="0.8" width="4.6" height="3.8" fill="#b4cdea"/><circle cx="4.2" cy="4.2" r="1.8" fill="#dfe9f6" stroke="#8fb4e0" stroke-width="0.8"/><path d="M5.4 5.6 L7.2 7.6" stroke="#e8c24a" stroke-width="1.2"/></svg><div class="t" style="left:9.8px;top:2.1px">予備項目検索</div></div>
<div class="btn d" style="left:512px;top:125.2px;width:50px;height:8.8px"><svg class="a" style="left:2px;top:0.9px" width="6.8" height="6.8" viewBox="0 0 8 8"><rect x="0.6" y="2.8" width="6.8" height="3.4" rx="0.6" fill="#eef1f5"/><rect x="2" y="0.8" width="4" height="2.4" fill="#fff"/><rect x="2" y="5" width="4" height="2.6" fill="#fff" stroke="#889" stroke-width="0.4"/><circle cx="5.4" cy="5.6" r="1.5" fill="#7ab0e0"/></svg><div class="t" style="left:9.8px;top:1.9px">証憑印刷</div></div>
<div class="btn d" style="left:511.4px;top:308.8px;width:50.6px;height:8.5px"><svg class="a" style="left:2px;top:0.9px" width="6.8" height="6.8" viewBox="0 0 8 8"><rect x="0.6" y="2.6" width="6.8" height="3.6" rx="0.6" fill="#f0f0f0" stroke="#555" stroke-width="0.4"/><rect x="2" y="0.6" width="4" height="2.4" fill="#fff" stroke="#777" stroke-width="0.3"/><rect x="2" y="5" width="4" height="2.6" fill="#fff" stroke="#667" stroke-width="0.4"/><circle cx="2.6" cy="2.6" r="1.2" fill="#a8d0f0"/></svg><div class="t" style="left:9.8px;top:1.9px"><span style="margin-left:-0.6px">リスト印刷</span></div></div>
<div class="btn d" style="left:511.4px;top:319.5px;width:50.6px;height:8.5px"><svg class="a" style="left:2px;top:0.9px" width="6.8" height="6.8" viewBox="0 0 8 8"><path d="M4 0.4 L6 4.6 H4.9 V6.4 H3.1 V4.6 H2Z" fill="#3fe03f"/><rect x="1.2" y="6.3" width="5.6" height="1.1" fill="#35c235"/></svg><div class="t" style="left:9.8px;top:1.9px"><span style="margin-left:-0.6px">リスト</span><span style="position:relative;top:0.6px;font-size:4.8px">CSV</span></div></div>
<div class="btn d" style="left:511.4px;top:330.4px;width:50.6px;height:8.6px"><svg class="a" style="left:2px;top:0.9px" width="6.8" height="6.8" viewBox="0 0 8 8"><circle cx="4" cy="4" r="3.3" fill="#e03a3a" stroke="#f6c8c8" stroke-width="0.5"/><path d="M2.6 2.6 L5.4 5.4 M5.4 2.6 L2.6 5.4" stroke="#fff" stroke-width="1"/></svg><div class="t" style="left:9.8px;top:1.9px">閉じる</div></div>
</div></body></html>
